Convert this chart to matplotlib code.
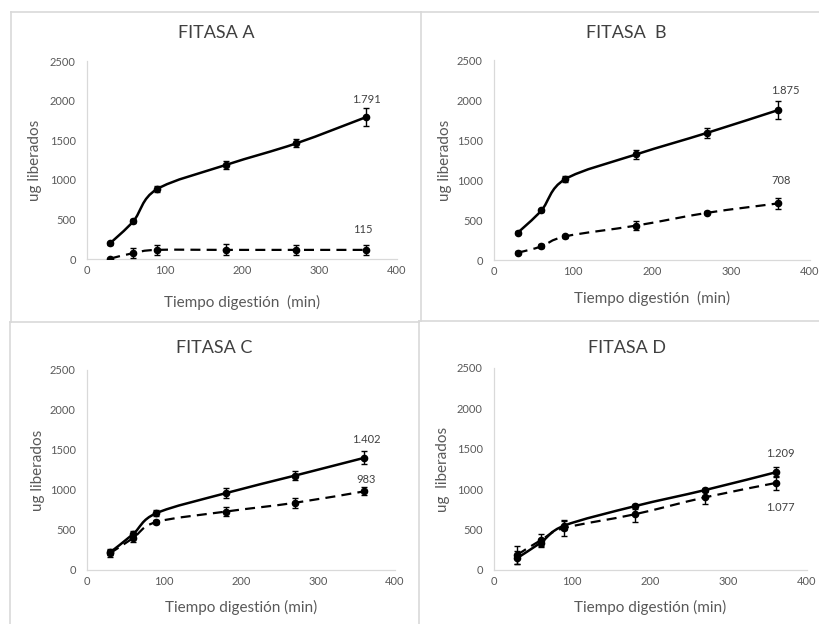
import matplotlib
matplotlib.use("Agg")
import matplotlib.pyplot as plt
from matplotlib.path import Path
from matplotlib.patches import PathPatch
from matplotlib.lines import Line2D
import numpy as np

plt.rcParams['font.family'] = ['Lato', 'DejaVu Sans']

# ---------------- data ----------------
tiempo = [30, 60, 90, 180, 270, 360]

titles = ["FITASA A", "FITASA  B", "FITASA C", "FITASA D"]

a_solid = [200, 480, 880, 1190, 1460, 1791]
a_solid_err = [20, 25, 40, 50, 50, 115]
a_dash = [5, 75, 115, 115, 115, 115]
a_dash_err = [10, 60, 65, 70, 65, 65]

b_solid = [340, 620, 1010, 1320, 1590, 1875]
b_solid_err = [20, 20, 40, 55, 60, 110]
b_dash = [90, 170, 295, 430, 590, 708]
b_dash_err = [20, 25, 20, 60, 20, 70]

c_solid = [220, 450, 710, 960, 1180, 1402]
c_solid_err = [30, 40, 40, 60, 60, 80]
c_dash = [210, 400, 600, 730, 840, 983]
c_dash_err = [50, 50, 30, 60, 60, 50]

d_solid = [150, 340, 550, 790, 990, 1209]
d_solid_err = [80, 40, 60, 30, 30, 60]
d_dash = [190, 370, 520, 690, 900, 1077]
d_dash_err = [110, 80, 100, 90, 80, 90]

solid_labels = ["1.791", "1.875", "1.402", "1.209"]
dash_labels = ["115", "708", "983", "1.077"]

xlabels = ["Tiempo digestión  (min)", "Tiempo digestión  (min)",
           "Tiempo digestión (min)", "Tiempo digestión (min)"]
ylabels = ["ug liberados", "ug liberados", "ug liberados", "ug  liberados"]

xticks = [0, 100, 200, 300, 400]
yticks = [0, 500, 1000, 1500, 2000, 2500]

# ---------------- layout (pixels) ----------------
W, H = 820, 624
fig = plt.figure(figsize=(W / 100, H / 100), dpi=100)

# (x0, x400, y0, y2500) in pixel coords from top-left
boxes = [(87, 397, 259, 61), (494, 810, 260, 60),
         (87, 395, 570, 370), (494, 807, 570, 368)]
title_pos = [(216, 33), (626, 33), (214, 348), (627, 348)]
ylab_x = [35, 445, 38, 443]
xlab_y = [302, 298, 607, 607]
# label offsets in pixels (dx, dy up)
solid_off = [(0, 18), (7, 20), (2, 18), (5, 19)]
dash_off = [(-3, 20), (3, 23), (2, 12), (5, -25)]

series = [(a_solid, a_solid_err, a_dash, a_dash_err),
          (b_solid, b_solid_err, b_dash, b_dash_err),
          (c_solid, c_solid_err, c_dash, c_dash_err),
          (d_solid, d_solid_err, d_dash, d_dash_err)]

grey_axis = "#d9d9d9"
txt = "#595959"


def smooth_path(x, y):
    pts = np.column_stack([x, y]).astype(float)
    n = len(pts)
    verts = [pts[0]]
    codes = [Path.MOVETO]
    for i in range(n - 1):
        p0 = pts[i - 1] if i > 0 else pts[i]
        p1 = pts[i]
        p2 = pts[i + 1]
        p3 = pts[i + 2] if i + 2 < n else pts[i + 1]
        c1 = p1 + (p2 - p0) / 6.0
        c2 = p2 - (p3 - p1) / 6.0
        verts += [c1, c2, p2]
        codes += [Path.CURVE4] * 3
    return Path(verts, codes)


px = 72.0 / 100.0  # points per pixel

for k in range(4):
    x0, x1, y0, y1 = boxes[k]
    ax = fig.add_axes([x0 / W, 1 - y0 / H, (x1 - x0) / W, (y0 - y1) / H])
    ax.set_xlim(0, 400)
    ax.set_ylim(0, 2500)
    ax.set_xticks(xticks)
    ax.set_yticks(yticks)
    for s in ["top", "right"]:
        ax.spines[s].set_visible(False)
    for s in ["left", "bottom"]:
        ax.spines[s].set_color(grey_axis)
        ax.spines[s].set_linewidth(0.9)
    ax.tick_params(length=0, labelsize=8, colors=txt)
    ax.tick_params(axis="y", pad=8)
    ax.tick_params(axis="x", pad=4)
    ax.patch.set_alpha(0)

    sv, se, dv, de = series[k]
    # smooth lines
    ax.add_patch(PathPatch(smooth_path(tiempo, sv), fill=False, lw=1.8,
                           edgecolor="black", capstyle="round", zorder=3))
    ax.add_patch(PathPatch(smooth_path(tiempo, dv), fill=False, lw=1.6,
                           edgecolor="black", linestyle=(0, (4.5, 2.8)),
                           zorder=3))
    for vals, errs in [(sv, se), (dv, de)]:
        ax.errorbar(tiempo, vals, yerr=errs, fmt="o", color="black",
                    ms=4.5, elinewidth=1.0, capsize=2.5, capthick=1.0,
                    zorder=4)

    dx, dy = solid_off[k]
    ax.annotate(solid_labels[k], (tiempo[-1], sv[-1]),
                xytext=(dx * px, dy * px), textcoords="offset points",
                ha="center", va="center", fontsize=8, color="#404040")
    dx, dy = dash_off[k]
    ax.annotate(dash_labels[k], (tiempo[-1], dv[-1]),
                xytext=(dx * px, dy * px), textcoords="offset points",
                ha="center", va="center", fontsize=8, color="#404040")

    tx, ty = title_pos[k]
    fig.text(tx / W, 1 - ty / H, titles[k], ha="center", va="center",
             fontsize=13, color="#404040")
    fig.text(ylab_x[k] / W, 1 - ((y0 + y1) / 2) / H, ylabels[k],
             rotation=90, ha="center", va="center", fontsize=11, color=txt)
    fig.text(((x0 + x1) / 2) / W, 1 - xlab_y[k] / H, xlabels[k],
             ha="center", va="center", fontsize=11, color=txt)

# panel borders (pixel coords)
border_segments = [
    # panel A
    ((11, 12), (421, 12)), ((11, 12), (11, 322)),
    # panel B
    ((421, 12), (822, 12)), ((421, 12), (421, 321)),
    # panel C
    ((10, 322), (419, 322)), ((10, 322), (10, 626)), ((419, 321), (419, 626)),
    # panel D
    ((419, 321), (822, 321)),
]
for (xa, ya), (xb, yb) in border_segments:
    fig.add_artist(Line2D([xa / W, xb / W], [1 - ya / H, 1 - yb / H],
                          transform=fig.transFigure, color="#d9d9d9",
                          lw=1.2))

fig.savefig("out.png", dpi=100)
